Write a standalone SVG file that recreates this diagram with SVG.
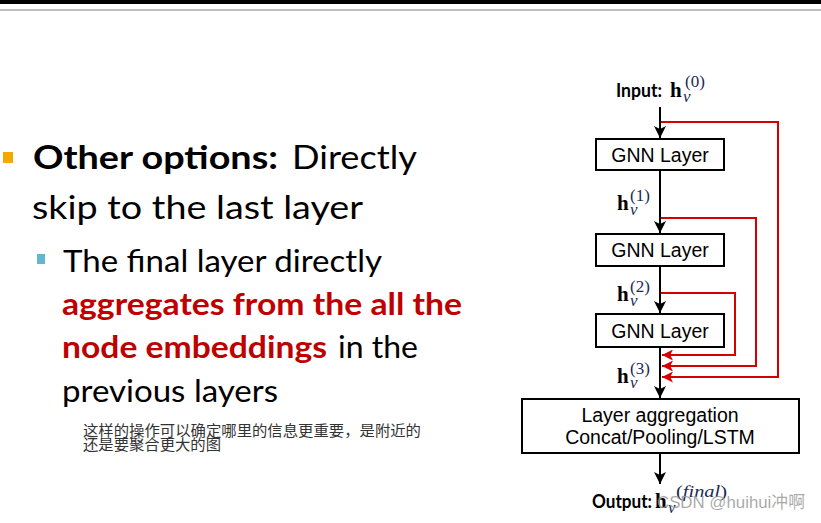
<svg xmlns="http://www.w3.org/2000/svg" width="821" height="523" viewBox="0 0 821 523">
<style>
.box{fill:#fff;stroke:#000;stroke-width:2}
.lbl{font-family:"Liberation Sans",Arial,sans-serif;font-size:19.5px;fill:#000;text-anchor:middle}
.blk{fill:none;stroke:#000;stroke-width:2}
.red{fill:none;stroke:#d40000;stroke-width:2}
.h{font-family:"Liberation Serif","Times New Roman",serif;font-weight:bold;font-size:21px;fill:#000}
.v{font-family:"Liberation Serif","Times New Roman",serif;font-style:italic;font-size:17px;fill:#1c2a56}
.sup{font-family:"Liberation Serif","Times New Roman",serif;font-size:17px;fill:#1c2a56}
.io{font-family:Lato,"Open Sans",sans-serif;font-weight:bold;font-size:19px;fill:#000}
.t1{font-family:Lato,"Open Sans",sans-serif;font-size:33px;fill:#000}
.t2{font-family:Lato,"Open Sans",sans-serif;font-size:31px;fill:#000}
.b{font-weight:bold}
.r{fill:#c00000;font-weight:bold}
.cn{font-family:"Noto Sans CJK SC",sans-serif;font-size:15px;fill:#333}
</style>
<defs>
<marker id="ab" viewBox="0 0 12 12" refX="12" refY="6" markerWidth="12" markerHeight="12" markerUnits="userSpaceOnUse" orient="auto">
<path d="M0,0 L12,6 L0,12 L3,6 z" fill="#000"/>
</marker>
<marker id="ar" viewBox="0 0 12 12" refX="12" refY="6" markerWidth="12" markerHeight="11" markerUnits="userSpaceOnUse" orient="auto">
<path d="M0,0 L12,6 L0,12 L3,6 z" fill="#d40000"/>
</marker>
</defs>
<rect width="821" height="523" fill="#fff"/>
<rect x="0" y="0" width="821" height="4" fill="#000"/>
<rect x="0" y="9" width="821" height="2" fill="#bdbdbd"/>

<g id="text-left">
<rect x="3" y="152" width="10" height="11" fill="#f2a900"/>
<text class="t1 b" x="33" y="169" textLength="245" lengthAdjust="spacingAndGlyphs">Other options:</text>
<text class="t1" x="292" y="169" textLength="125" lengthAdjust="spacingAndGlyphs">Directly</text>
<text class="t1" x="32" y="219" textLength="331" lengthAdjust="spacingAndGlyphs">skip to the last layer</text>
<rect x="37" y="254" width="8" height="10" fill="#63b7cf"/>
<text class="t2" x="63" y="272" textLength="319" lengthAdjust="spacingAndGlyphs">The final layer directly</text>
<text class="t2 r" x="62" y="315" textLength="400" lengthAdjust="spacingAndGlyphs">aggregates from the all the</text>
<text class="t2 r" x="62" y="358" textLength="265" lengthAdjust="spacingAndGlyphs">node embeddings</text>
<text class="t2" x="338" y="358" textLength="80" lengthAdjust="spacingAndGlyphs">in the</text>
<text class="t2" x="62" y="402" textLength="216" lengthAdjust="spacingAndGlyphs">previous layers</text>
<text class="cn" x="83" y="436" textLength="338" lengthAdjust="spacingAndGlyphs">这样的操作可以确定哪里的信息更重要，是附近的</text>
<text class="cn" x="83" y="450" textLength="138" lengthAdjust="spacingAndGlyphs">还是要聚合更大的图</text>
</g>

<g id="connectors">
<path class="blk" d="M660,107 V138" marker-end="url(#ab)"/>
<path class="blk" d="M660,170 V233" marker-end="url(#ab)"/>
<path class="blk" d="M660,266 V313" marker-end="url(#ab)"/>
<path class="blk" d="M660,347 V398" marker-end="url(#ab)"/>
<path class="blk" d="M660,453 V484" marker-end="url(#ab)"/>
<path class="red" d="M661,122 H778 V377 H662" marker-end="url(#ar)"/>
<path class="red" d="M661,218 H756 V366 H662" marker-end="url(#ar)"/>
<path class="red" d="M661,293 H735 V355 H662" marker-end="url(#ar)"/>
</g>

<g id="input">
<text class="io" x="616" y="97" textLength="46" lengthAdjust="spacingAndGlyphs">Input:</text>
<text class="h" x="670" y="97">h</text>
<text class="v" x="683" y="102">v</text>
<text class="sup" x="685" y="87">(0)</text>
</g>
<g id="gnn1">
<rect class="box" x="596" y="139" width="128" height="31"/>
<text class="lbl" x="660" y="162">GNN Layer</text>
</g>
<g id="h1">
<text class="h" x="617" y="210">h</text>
<text class="v" x="630" y="215">v</text>
<text class="sup" x="630" y="201">(1)</text>
</g>
<g id="gnn2">
<rect class="box" x="596" y="234" width="128" height="32"/>
<text class="lbl" x="660" y="257">GNN Layer</text>
</g>
<g id="h2">
<text class="h" x="617" y="301">h</text>
<text class="v" x="630" y="306">v</text>
<text class="sup" x="630" y="292">(2)</text>
</g>
<g id="gnn3">
<rect class="box" x="596" y="314" width="128" height="33"/>
<text class="lbl" x="660" y="338">GNN Layer</text>
</g>
<g id="h3">
<text class="h" x="617" y="383">h</text>
<text class="v" x="630" y="388">v</text>
<text class="sup" x="630" y="374">(3)</text>
</g>
<g id="agg">
<rect class="box" x="522" y="399" width="277" height="54"/>
<text class="lbl" x="660" y="422">Layer aggregation</text>
<text class="lbl" x="660" y="444">Concat/Pooling/LSTM</text>
</g>
<g id="output">
<text class="io" x="592" y="508" textLength="60" lengthAdjust="spacingAndGlyphs">Output:</text>
<text class="h" x="655" y="508">h</text>
<text class="v" x="668" y="513">v</text>
<text class="sup" x="676" y="497" textLength="51" lengthAdjust="spacingAndGlyphs">(<tspan font-style="italic">final</tspan>)</text>
</g>
<text x="657" y="508" font-family="'Liberation Sans','Noto Sans CJK SC',sans-serif" font-size="17" fill="#9a9a9a" fill-opacity="0.85" textLength="148" lengthAdjust="spacingAndGlyphs">CSDN @huihui冲啊</text>
</svg>
